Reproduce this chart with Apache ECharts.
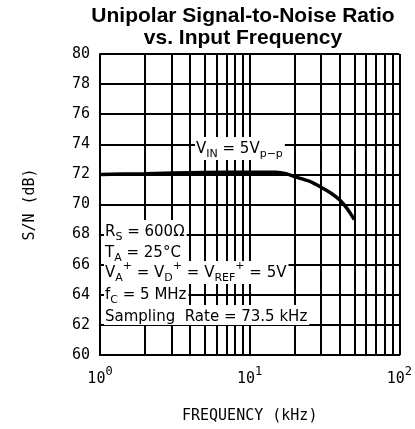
<!DOCTYPE html>
<html>
<head>
<meta charset="utf-8">
<script src="https://cdn.jsdelivr.net/npm/echarts@6/dist/echarts.min.js"></script>
<style>
  html, body { margin: 0; padding: 0; background: #fff; }
  #chart { width: 415px; height: 429px; }
</style>
</head>
<body>
<div id="chart"></div>
<script>
// S/N vs input frequency
const freqKHz = [1, 2, 5, 10, 15, 17.5, 20, 25, 30, 35, 40, 45, 50]
const snrDb = [72.0, 72.05, 72.12, 72.15, 72.15, 72.05, 71.85, 71.55, 71.15, 70.75, 70.3, 69.7, 69.0]
const minorFreqs = [2, 3, 4, 5, 6, 7, 8, 9, 20, 30, 40, 50, 60, 70, 80, 90]
const yTicks = [60, 62, 64, 66, 68, 70, 72, 74, 76, 78, 80]

const monoFont = 'DejaVu Sans Mono'
const noteFont = 'DejaVu Sans'
const ink = '#000'

const chart = echarts.init(document.getElementById('chart'))

const txt = { fontSize: 15, fontFamily: noteFont, color: ink, verticalAlign: 'top', padding: [5, 0, 0, 0] }
const sub = { fontSize: 11, fontFamily: noteFont, color: ink, verticalAlign: 'top', padding: [12, 0, 0, 0] }
const sup = { fontSize: 11, fontFamily: noteFont, color: ink, verticalAlign: 'top', padding: [0, 0, 0, 0] }

function note(x, y, str) {
  return {
    type: 'text',
    left: x,
    top: y,
    z: 50,
    style: {
      text: str,
      backgroundColor: '#fff',
      padding: [0, 2, 0, 1],
      rich: { t: txt, sb: sub, sp: sup }
    }
  }
}

chart.setOption({
  animation: false,
  title: {
    text: 'Unipolar Signal-to-Noise Ratio\nvs. Input Frequency',
    left: 238,
    top: 0,
    textAlign: 'center',
    textStyle: { fontFamily: 'Liberation Sans', fontWeight: 'bold', fontSize: 21, lineHeight: 22, color: ink }
  },
  grid: { left: 100, right: 13, top: 54, bottom: 73 },
  xAxis: {
    type: 'log',
    logBase: 10,
    min: 1,
    max: 100,
    name: 'FREQUENCY (kHz)',
    nameLocation: 'middle',
    nameGap: 54,
    nameTextStyle: { fontFamily: monoFont, fontSize: 15, color: ink },
    axisLine: { lineStyle: { color: ink, width: 2 } },
    axisTick: { show: false },
    splitLine: { show: true, lineStyle: { color: ink, width: 2 } },
    axisLabel: {
      margin: 11,
      formatter: v => '{b|10}{e|' + Math.round(Math.log10(v)) + '}',
      rich: {
        b: { fontFamily: monoFont, fontSize: 15, color: ink, verticalAlign: 'top', padding: [6, 0, 0, 0] },
        e: { fontFamily: monoFont, fontSize: 12, color: ink, verticalAlign: 'top' }
      }
    }
  },
  yAxis: {
    type: 'value',
    min: 60,
    max: 80,
    interval: 2,
    name: 'S/N (dB)',
    nameLocation: 'middle',
    nameGap: 62,
    nameTextStyle: { fontFamily: monoFont, fontSize: 15, color: ink },
    axisLine: { show: true, lineStyle: { color: ink, width: 2 } },
    axisTick: { show: false },
    splitLine: { show: true, lineStyle: { color: ink, width: 2 } },
    axisLabel: {
      margin: 10,
      fontFamily: monoFont,
      fontSize: 15,
      color: ink,
      customValues: yTicks
    }
  },
  graphic: [
    note(195, 137, '{t|V}{sb|IN}{t| = 5V}{sb|p−p}'),
    note(104, 220, '{t|R}{sb|S}{t| = 600Ω}'),
    note(104, 241, '{t|T}{sb|A}{t| = 25°C}'),
    note(104, 261, '{t|V}{sb|A}{sp|+}{t| = V}{sb|D}{sp|+}{t| = V}{sb|REF}{sp|+}{t| = 5V}'),
    note(104, 283, '{t|f}{sb|C}{t| = 5 MHz}'),
    note(104, 305, '{t|Sampling  Rate = 73.5 kHz}')
  ],
  series: [
    {
      type: 'line',
      data: [],
      z: 1,
      markLine: {
        silent: true,
        symbol: 'none',
        label: { show: false },
        lineStyle: { color: ink, width: 2, type: 'solid' },
        data: minorFreqs.map(f => ({ xAxis: f }))
      }
    },
    {
      type: 'line',
      z: 5,
      smooth: 0.2,
      symbol: 'none',
      lineStyle: { color: ink, width: 3.5 },
      data: freqKHz.map((f, i) => [f, snrDb[i]])
    }
  ]
})
</script>
</body>
</html>
